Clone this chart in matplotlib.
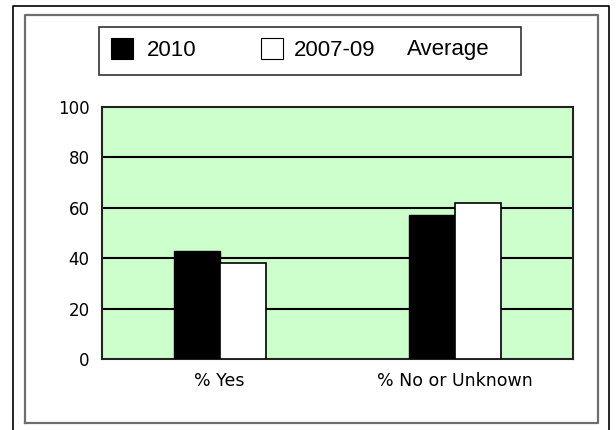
import matplotlib
matplotlib.use("Agg")
import matplotlib.pyplot as plt
from matplotlib.patches import Rectangle
from matplotlib.lines import Line2D
import numpy as np

categories = ["% Yes", "% No or Unknown"]
series_names = ["2010", "2007-09   Average"]
values_2010 = [43, 57]
values_avg = [38, 62]
yticks = [0, 20, 40, 60, 80, 100]

W, H = 616, 430
fig = plt.figure(figsize=(W / 100, H / 100), dpi=100)
fig.patch.set_facecolor("white")

def fx(x): return x / W
def fy(y): return 1 - y / H

# page frames
for pts, col, lw in [
    ([(13, 440), (13, 6), (609, 6), (609, 440)], "black", 1.2),
    ([(25, 423), (25, 15), (598, 15), (598, 423), (25, 423)], "#6e6e6e", 1.6),
]:
    xs, ys = zip(*pts)
    fig.add_artist(Line2D([fx(v) for v in xs], [fy(v) for v in ys], color=col, lw=lw))

# plot area
ax = fig.add_axes([fx(102), fy(359), fx(573) - fx(102), fy(107) - fy(359)])
ax.set_facecolor("#ccffcc")
x = np.arange(len(categories))
bw = 0.195
ax.bar(x - bw / 2, values_2010, bw, color="black", edgecolor="black", lw=1, zorder=3)
ax.bar(x + bw / 2, values_avg, bw, color="white", edgecolor="black", lw=1.2, zorder=3)
ax.set_xlim(-0.5, 1.5)
ax.set_ylim(0, 100)
ax.set_yticks(yticks)
ax.set_yticklabels([str(t) for t in yticks], fontsize=12, family="DejaVu Sans")
ax.set_xticks(x)
ax.set_xticklabels(categories, fontsize=12.5, family="DejaVu Sans")
ax.tick_params(axis="y", length=0, pad=9)
ax.tick_params(axis="x", length=0, pad=9)
for t in yticks[1:-1]:
    ax.axhline(t, color="black", lw=1.5, zorder=1)
for s in ax.spines.values():
    s.set_color("#222222")
    s.set_linewidth(1.5)

# legend box
fig.add_artist(Rectangle((fx(99), fy(75)), fx(521) - fx(99), fy(27) - fy(75),
                         facecolor="white", edgecolor="#333333", lw=1.2))
legend_items = [("black", 111, [147], series_names[0]),
                ("white", 261, [294, 407], series_names[1])]
for col, sx, txs, label in legend_items:
    fig.add_artist(Rectangle((fx(sx), fy(59)), fx(sx + 22) - fx(sx), fy(38) - fy(59),
                             facecolor=col, edgecolor="black", lw=0.8))
    for tx, part in zip(txs, label.split("   ")):
        fig.text(fx(tx), fy(55.5), part, fontsize=16, family="Liberation Sans",
                 va="baseline", ha="left")

fig.savefig("out.png", dpi=100)
